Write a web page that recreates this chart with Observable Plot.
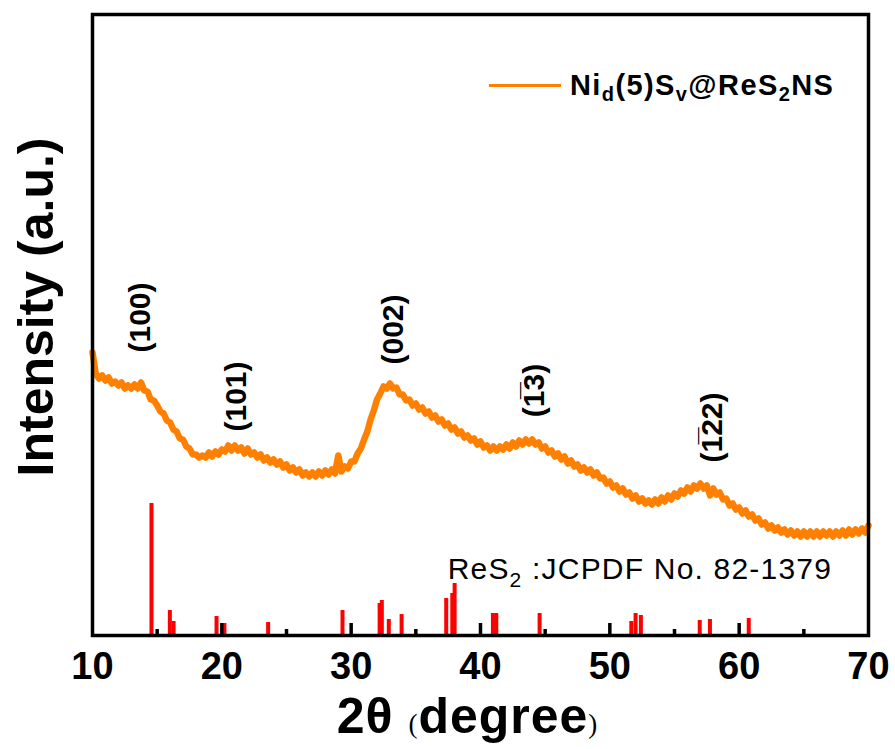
<!DOCTYPE html>
<html><head><meta charset="utf-8">
<script src="https://cdn.jsdelivr.net/npm/d3@7"></script>
<script src="https://cdn.jsdelivr.net/npm/@observablehq/plot@0.6"></script>
<style>
body{margin:0;background:#fff;}
#wrap{position:relative;width:895px;height:749px;font-family:"Liberation Sans",Arial,sans-serif;}
#legend{position:absolute;left:489px;top:69px;display:flex;align-items:center;font-weight:bold;font-size:29px;letter-spacing:1.4px;color:#000;white-space:nowrap;}
#legend .sw{display:inline-block;width:72px;height:3px;background:#FF8000;margin-right:9px;}
#legend sub{font-size:20px;vertical-align:-6px;line-height:0;}
</style></head><body>
<div id="wrap"></div>
<script>
// ---- data ----
const scanStart = 10, scanStep = 0.25;
const intensity = [
283,262,257,260,255,258,252,254,250,253,247,250,247,251,247,253,245,244,236,235,
230,224,222,215,213,206,204,197,196,189,187,181,181,178,180,178,183,179,184,181,
186,184,190,185,190,185,188,182,187,181,183,178,181,175,178,173,176,171,174,168,
171,165,168,163,166,160,163,159,163,159,164,160,165,161,166,162,180,164,169,167,
174,174,182,187,196,204,216,225,236,242,249,247,252,247,248,241,241,235,236,230,
232,226,228,222,224,218,220,214,216,210,212,206,208,202,204,198,200,195,197,191,
194,188,190,185,189,185,189,186,191,187,193,189,195,191,196,192,196,191,193,187,
189,183,185,179,182,176,179,172,175,169,171,165,168,163,166,160,163,157,158,152,
154,148,150,144,147,141,143,137,140,134,137,132,135,131,136,132,138,134,140,136,
142,139,145,142,148,144,150,147,152,147,150,140,147,141,143,136,137,130,132,126,
128,122,125,119,121,115,117,111,113,107,110,105,108,103,106,101,105,100,104,99,
104,99,104,99,104,99,104,100,104,99,104,100,105,100,106,101,106,102,107,103,
110
];
const refPositions = [14.56,15.98,16.27,19.59,20.2,23.58,29.33,32.2,32.37,32.91,33.9,37.35,37.82,38.0,40.96,41.22,44.57,51.66,51.99,52.4,56.95,57.74,60.74];
const refHeights   = [132,25,14,19,12,13,25,32,35,16,21,37,42,52,22,22,22,14,22,20,15,16,17];
const peakLabels = ["(100)","(101)","(002)","(1\u03053)","(1\u030522)"];
const peakLabelX = [13.7,21.1,33.3,44.2,57.9];
const peakLabelY = [318,239,306,245,208];
const tickLabels = [10,20,30,40,50,60,70];
const majorTicks = [20,30,40,50,60];
const minorTicks = [15,25,35,45,55,65];
const refLabel = "ReS2 :JCPDF No. 82-1379";
const refLabelX = [37.46], refLabelY = [57];
const xTitle = "2\u03B8 (degree)";
const yTitle = "Intensity (a.u.)";

// ---- tables ----
const curve = intensity.map((v,i)=>({t: scanStart + i*scanStep, v}));
const sticks = refPositions.map((p,i)=>({p, h: refHeights[i]}));
const peaks = peakLabels.map((s,i)=>({s, x: peakLabelX[i], y: peakLabelY[i]}));

const FONT = '"Liberation Sans", Arial, sans-serif';
const chart = Plot.plot({
  width: 895, height: 749,
  marginLeft: 92, marginRight: 27, marginTop: 14, marginBottom: 114,
  style: {fontFamily: FONT, background: "white", overflow: "visible", color: "black"},
  x: {domain: [10, 70]},
  y: {domain: [0, 621], axis: null},
  marks: [
    Plot.axisX(tickLabels, {tickSize: 0, tickPadding: 17, fontSize: 38, fontWeight: "bold", label: null, tickFormat: d => d}),
    Plot.ruleX(sticks, {x: "p", y1: 0, y2: "h", stroke: "#FF0000", strokeWidth: 4}),
    Plot.line(curve, {x: "t", y: "v", stroke: "#FF8000", strokeWidth: 6.5, strokeLinejoin: "round"}),
    Plot.tickX(majorTicks, {x: d => d, insetTop: 609, stroke: "black", strokeWidth: 3.5}),
    Plot.tickX(minorTicks, {x: d => d, insetTop: 615, stroke: "black", strokeWidth: 3.5}),
    Plot.frame({stroke: "black", strokeWidth: 3.5}),
    Plot.text(peaks, {x: "x", y: "y", text: "s", rotate: -90, textAnchor: "middle", lineAnchor: "middle", fontSize: 30, fontWeight: "bold", fill: "black"}),
    Plot.text(refLabelX, {x: d => d, y: refLabelY, text: [refLabel], textAnchor: "start", lineAnchor: "bottom", fontSize: 30, fill: "black"}),
    Plot.text([yTitle], {frameAnchor: "left", rotate: -90, textAnchor: "middle", lineAnchor: "middle", dx: -56, dy: -18, fontSize: 50, fontWeight: "bold", fill: "black"}),
    Plot.text([xTitle], {frameAnchor: "bottom", dx: -13, dy: 97, lineAnchor: "bottom", fontSize: 50, fontWeight: "bold", fill: "black"})
  ]
});

// rich text (subscripts, mixed fonts)
d3.select(chart).selectAll("text").each(function() {
  const el = d3.select(this);
  const t = this.textContent;
  if (t === refLabel) {
    el.text("").attr("letter-spacing", 1.2);
    el.append("tspan").text("ReS");
    el.append("tspan").attr("font-size", 21).attr("dy", 8).text("2");
    el.append("tspan").attr("dy", -8).text(" :JCPDF No. 82-1379");
  } else if (t === xTitle) {
    el.text("").attr("letter-spacing", 1);
    el.append("tspan").text("2\u03B8 ");
    el.append("tspan").attr("font-family", '"Liberation Serif", serif').attr("font-weight", "normal").attr("font-size", 27).text("(");
    el.append("tspan").text("degree");
    el.append("tspan").attr("font-family", '"Liberation Serif", serif').attr("font-weight", "normal").attr("font-size", 27).text(")");
  }
});

const wrap = document.getElementById("wrap");
wrap.appendChild(chart);
const legend = document.createElement("div");
legend.id = "legend";
legend.innerHTML = '<span class="sw"></span><span>Ni<sub>d</sub>(5)S<sub>v</sub>@ReS<sub>2</sub>NS</span>';
wrap.appendChild(legend);
</script>
</body></html>
